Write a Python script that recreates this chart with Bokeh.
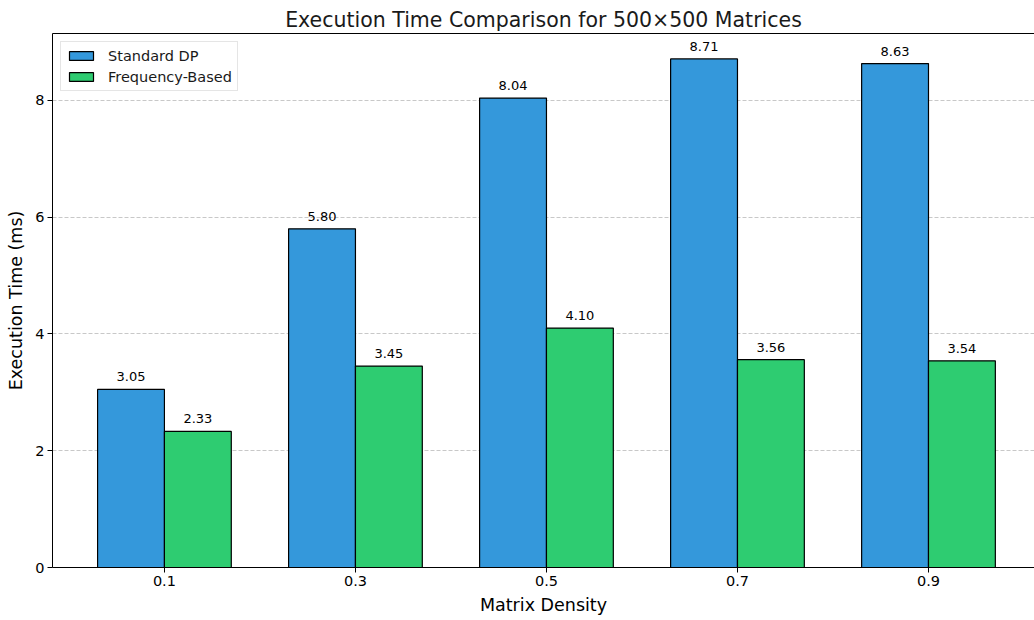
from bokeh.plotting import figure
from bokeh.models import ColumnDataSource, FixedTicker, Range1d, LinearAxis, Legend, LegendItem
from bokeh.core.properties import value
from bokeh.embed import file_html
from bokeh.resources import INLINE

densities = ["0.1", "0.3", "0.5", "0.7", "0.9"]
standard_dp = [3.05, 5.80, 8.04, 8.71, 8.63]
frequency_based = [2.33, 3.45, 4.10, 3.56, 3.54]
series_names = ["Standard DP", "Frequency-Based"]
colors = ["#3498db", "#2ecc71"]
bar_w = 0.35

FONT = "DejaVu Sans"
idx = list(range(len(densities)))

p = figure(width=1034, height=620, output_backend="svg", toolbar_location=None,
           x_range=Range1d(-0.586, 4.555), y_range=Range1d(0, 9.1455),
           x_axis_location=None, y_axis_location=None,
           min_border_left=52, min_border_right=0, min_border_top=33, min_border_bottom=53)
p.outline_line_color = None
p.background_fill_color = "white"
p.border_fill_color = "white"

p.title.text = "Execution Time Comparison for 500\u00d7500 Matrices"
p.title.align = "center"
p.title.text_font = FONT
p.title.text_font_size = "20.5px"
p.title.text_font_style = "normal"
p.title.text_color = "#1a1a1a"
p.title.standoff = 4
p.title.offset = 4

renderers = []
for k, (vals, name, col) in enumerate(zip([standard_dp, frequency_based], series_names, colors)):
    xs = [i + (k - 0.5) * bar_w for i in idx]
    src = ColumnDataSource(dict(x=xs, top=vals, lab=[f"{v:.2f}" for v in vals]))
    r = p.vbar(x="x", top="top", width=bar_w, bottom=0, source=src,
               fill_color=col, line_color="black", line_width=1.2)
    renderers.append(r)
    p.text(x="x", y="top", text="lab", source=src, text_align="center",
           text_baseline="bottom", y_offset=-8, text_font=value(FONT),
           text_font_size="13px", text_color="black")

def style_axis(ax):
    ax.axis_line_color = "black"
    ax.axis_line_width = 1
    ax.major_tick_line_color = "black"
    ax.major_tick_out = 5
    ax.major_tick_in = 0
    ax.minor_tick_line_color = None
    ax.major_label_text_font = FONT
    ax.major_label_text_font_size = "14.5px"
    ax.major_label_text_color = "black"
    ax.major_label_standoff = 3
    ax.axis_label_text_font = FONT
    ax.axis_label_text_font_size = "17.5px"
    ax.axis_label_text_font_style = "normal"
    ax.axis_label_text_color = "black"
    ax.axis_label_standoff = 6

xax = LinearAxis(ticker=FixedTicker(ticks=idx), axis_label="Matrix Density",
                 major_label_overrides={i: d for i, d in zip(idx, densities)})
style_axis(xax)
p.add_layout(xax, "below")

yax = LinearAxis(ticker=FixedTicker(ticks=[0, 2, 4, 6, 8]), axis_label="Execution Time (ms)")
style_axis(yax)
p.add_layout(yax, "left")

top_ax = LinearAxis(ticker=FixedTicker(ticks=[]), major_label_text_font_size="0px",
                    major_label_standoff=0, major_tick_out=0, major_tick_in=0)
top_ax.axis_line_color = "black"
top_ax.major_tick_line_color = None
top_ax.minor_tick_line_color = None
p.add_layout(top_ax, "above")

p.xgrid.grid_line_color = None
p.ygrid.ticker = FixedTicker(ticks=[2, 4, 6, 8])
p.ygrid.grid_line_color = "#b0b0b0"
p.ygrid.grid_line_alpha = 0.7
p.ygrid.grid_line_dash = "4 2"
p.ygrid.grid_line_width = 1

legend = Legend(items=[LegendItem(label=n, renderers=[r]) for n, r in zip(series_names, renderers)],
                location="top_left")
legend.label_text_font = FONT
legend.label_text_font_size = "14.5px"
legend.label_text_color = "#1a1a1a"
legend.glyph_width = 30
legend.glyph_height = 11
legend.label_height = 17
legend.label_standoff = 12
legend.spacing = 4
legend.padding = 5
legend.margin = 8
legend.border_line_color = "#cccccc"
legend.border_line_width = 1
legend.background_fill_alpha = 0.8
p.add_layout(legend)

open("out.html", "w").write(file_html(p, INLINE))
